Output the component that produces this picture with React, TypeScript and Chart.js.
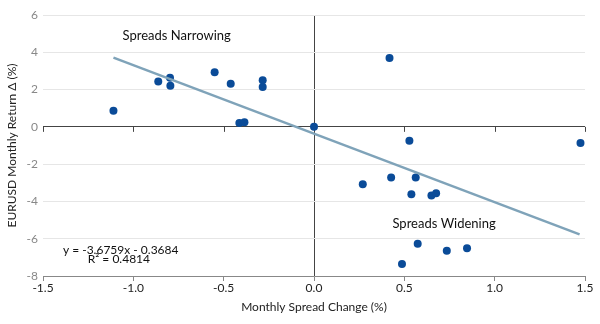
import React, { useEffect, useRef } from "react";
import { Chart, registerables } from "chart.js";

Chart.register(...registerables);

// Monthly spread change (%)
const spreadChange = [
  -1.11, -0.862, -0.797, -0.795, -0.55, -0.461, -0.413, -0.385, -0.284, -0.284,
  0.0, 0.418, 0.528, 1.475, 0.27, 0.427, 0.563, 0.539, 0.65, 0.676, 0.574, 0.735,
  0.847, 0.487,
];
// EURUSD monthly return delta (%)
const returnDelta = [
  0.87, 2.43, 2.64, 2.2, 2.93, 2.31, 0.21, 0.25, 2.5, 2.14, 0.0, 3.7, -0.75, -0.86,
  -3.08, -2.72, -2.72, -3.61, -3.68, -3.56, -6.27, -6.65, -6.51, -7.35,
];
// Trend line end points
const trendX = [-1.11, 1.47];
const trendY = [3.71, -5.77];

const xTitle = "Monthly Spread Change (%)";
const yTitle = "EURUSD Monthly Return Δ (%)";
const labelTexts = ["Spreads Narrowing", "Spreads Widening", "y = -3.6759x - 0.3684", "R² = 0.4814"];
const labelX = [-0.76, 0.72, -1.07, -1.08];
const labelY = [4.9, -5.19, -6.62, -7.12];
const labelSizes = [13, 13, 12, 12];

const FONT = "Lato, 'Open Sans', sans-serif";

export default function App() {
  const ref = useRef<HTMLCanvasElement | null>(null);
  useEffect(() => {
    if (!ref.current) return;
    const axisTicksPlugin = {
      id: "zeroAxisTicks",
      beforeDatasetsDraw(chart: any) {
        const { ctx, scales } = chart;
        const xs = scales.x;
        const ys = scales.y;
        const y0 = ys.getPixelForValue(0);
        ctx.save();
        ctx.strokeStyle = "#444";
        ctx.lineWidth = 1;
        ctx.beginPath();
        xs.ticks.forEach((t: any) => {
          const px = Math.round(xs.getPixelForValue(t.value)) + 0.5;
          ctx.moveTo(px, y0);
          ctx.lineTo(px, y0 + 5);
        });
        ctx.stroke();
        ctx.restore();
      },
    };
    const labelsPlugin = {
      id: "textLabels",
      afterDatasetsDraw(chart: any) {
        const { ctx, scales } = chart;
        ctx.save();
        ctx.fillStyle = "#111";
        ctx.textAlign = "center";
        ctx.textBaseline = "middle";
        labelTexts.forEach((t, i) => {
          ctx.font = `${labelSizes[i]}px ${FONT}`;
          ctx.fillText(t, scales.x.getPixelForValue(labelX[i]), scales.y.getPixelForValue(labelY[i]));
        });
        ctx.restore();
      },
    };
    const chart = new Chart(ref.current, {
      type: "scatter",
      data: {
        datasets: [
          {
            type: "line",
            data: trendX.map((x, i) => ({ x, y: trendY[i] })),
            borderColor: "#7fa3b9",
            borderWidth: 2.5,
            pointRadius: 0,
            fill: false,
          } as any,
          {
            data: spreadChange.map((x, i) => ({ x, y: returnDelta[i] })),
            backgroundColor: "#0a4b98",
            borderColor: "#0a4b98",
            pointRadius: 4,
            borderWidth: 0,
          },
        ],
      },
      options: {
        animation: false,
        responsive: true,
        maintainAspectRatio: false,
        layout: { padding: { top: 15, right: 15, left: 0, bottom: 0 } },
        plugins: { legend: { display: false }, tooltip: { enabled: false } },
        scales: {
          x: {
            type: "linear",
            min: -1.5,
            max: 1.5,
            afterFit: (s: any) => {
              s.height = 48;
            },
            ticks: {
              stepSize: 0.5,
              callback: (v: any) => Number(v).toFixed(1),
              color: "#222",
              font: { family: FONT, size: 12 },
              padding: 0,
              maxRotation: 0,
            },
            grid: {
              color: (c: any) => (c.tick && c.tick.value === 0 ? "#444" : "rgba(0,0,0,0)"),
              tickColor: "#888",
              tickLength: 5,
              drawTicks: true,
            },
            border: { display: true, color: "#888", width: 1 },
            title: {
              display: true,
              text: xTitle,
              color: "#222",
              font: { family: FONT, size: 12 },
              padding: { top: 4, bottom: 10 },
            },
          },
          y: {
            type: "linear",
            min: -8,
            max: 6,
            afterFit: (s: any) => {
              s.width = 43;
            },
            ticks: {
              stepSize: 2,
              color: "#888",
              font: { family: FONT, size: 12 },
              padding: 5,
            },
            grid: {
              color: (c: any) => (c.tick && c.tick.value === 0 ? "#444" : "#e6e6e6"),
              drawTicks: false,
            },
            border: { display: false },
            title: {
              display: true,
              text: yTitle,
              color: "#222",
              font: { family: FONT, size: 12 },
              padding: 5,
            },
          },
        },
      },
      plugins: [axisTicksPlugin, labelsPlugin],
    } as any);
    return () => chart.destroy();
  }, []);
  return (
    <div style={{ position: "absolute", left: 0, top: 0, width: 600, height: 324, background: "#fff" }}>
      <canvas ref={ref} />
    </div>
  );
}
